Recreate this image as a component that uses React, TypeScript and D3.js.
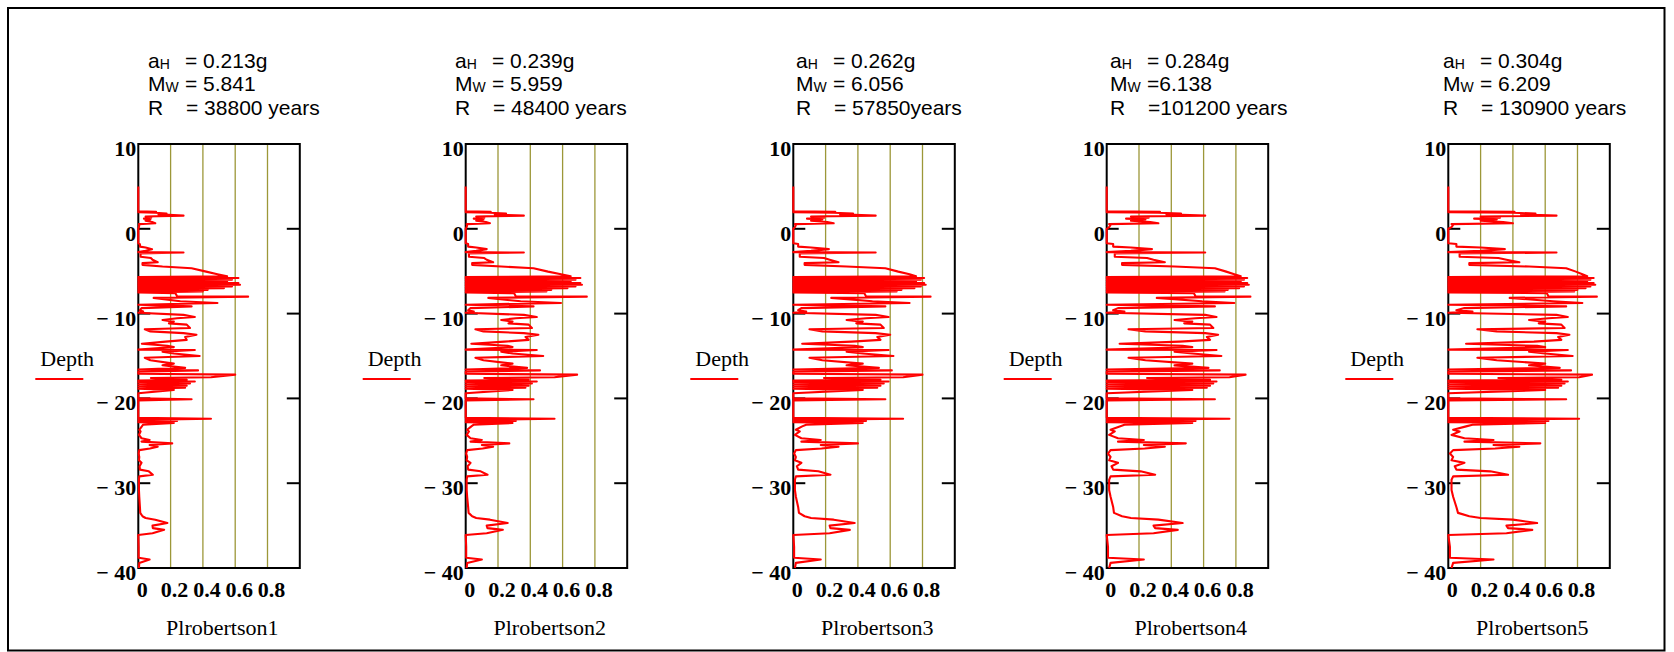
import React from "react";
import * as d3 from "d3";

if (typeof document !== "undefined") {
  document.body.style.margin = "0";
  document.body.style.overflow = "hidden";
}

// ---- data ----
const depth = [
  5.0, 2.05, 2.0, 1.95, 1.9, 1.8, 1.7, 1.55, 1.45, 1.3,
  1.2, 1.1, 0.95, 0.8, 0.65, 0.55, 0.45, 0.2, 0.0, -1.7,
  -1.8, -2.1, -2.2, -2.4, -2.6, -2.75, -2.8, -2.9, -3.3, -3.45,
  -3.65, -3.95, -4.05, -4.25, -4.45, -4.65, -5.05, -5.35, -5.6, -5.7,
  -5.8, -5.9, -6.0, -6.1, -6.2, -6.3, -6.4, -6.5, -6.6, -6.7,
  -6.8, -6.9, -7.0, -7.1, -7.2, -7.3, -7.4, -7.5, -7.6, -7.95,
  -8.0, -8.15, -8.55, -8.75, -8.95, -9.15, -9.35, -9.6, -9.75, -9.9,
  -10.15, -10.4, -10.55, -10.75, -10.95, -11.15, -11.3, -11.7, -11.85, -12.1,
  -12.3, -12.5, -12.75, -13.1, -13.3, -13.55, -13.8, -13.95, -14.25, -14.3,
  -14.5, -14.7, -15.0, -15.2, -15.5, -15.9, -16.1, -16.4, -16.6, -16.7,
  -16.85, -17.1, -17.2, -17.5, -17.6, -17.8, -17.9, -18.0, -18.1, -18.25,
  -18.35, -18.5, -18.6, -18.75, -18.85, -19.0, -19.4, -20.0, -20.1, -20.25,
  -22.3, -22.4, -22.55, -22.65, -22.8, -22.9, -23.1, -23.3, -23.7, -23.9,
  -24.3, -24.7, -24.9, -25.1, -25.3, -25.5, -25.7, -25.9, -26.1, -26.5,
  -26.9, -27.3, -27.6, -28.0, -28.4, -28.6, -29.0, -29.2, -29.6, -30.8,
  -31.6, -32.8, -33.5, -33.9, -34.1, -34.3, -34.7, -35.0, -35.3, -35.5,
  -35.9, -36.1, -37.5, -38.8, -39.0, -39.4, -40.0,
];

const pl1 = [
  0, 0, 0.11, 0, 0.105, 0.175, 0.125, 0.28, 0.045, 0.08,
  0.035, 0.075, 0.045, 0.085, 0.105, 0.004, 0.006, 0.004, 0, 0,
  0.01, 0.01, 0.045, 0.085, 0.045, 0, 0.28, 0.014, 0.014, 0.078,
  0.088, 0.12, 0.026, 0.026, 0.15, 0.33, 0.42, 0.49, 0.55, 0,
  0.62, 0, 0.58, 0, 0.55, 0, 0.62, 0, 0.63, 0,
  0.58, 0, 0.53, 0, 0.43, 0, 0.4, 0, 0.23, 0.24,
  0.68, 0.095, 0.26, 0.49, 0, 0.33, 0.02, 0.01, 0.03, 0,
  0.28, 0.35, 0.24, 0.15, 0.22, 0.19, 0.3, 0.32, 0.04, 0.075,
  0.28, 0.36, 0.29, 0.3, 0.17, 0.022, 0.18, 0.22, 0, 0.35,
  0.15, 0.22, 0.38, 0.04, 0.075, 0.22, 0.15, 0.29, 0, 0.37,
  0, 0, 0.6, 0.45, 0.078, 0.3, 0, 0.35, 0, 0.32,
  0, 0.3, 0, 0.29, 0, 0.22, 0, 0, 0.33, 0,
  0, 0.45, 0, 0.24, 0, 0.22, 0.03, 0.022, 0.006, 0.014,
  0.004, 0.02, 0.07, 0.02, 0.21, 0.07, 0.12, 0.072, 0.006, 0.002,
  0.006, 0.004, 0.02, 0.008, 0.01, 0.065, 0.09, 0.006, 0.004, 0.004,
  0.006, 0.01, 0.012, 0.026, 0.045, 0.105, 0.18, 0.088, 0.09, 0.16,
  0.088, 0, 0.002, 0.002, 0.07, 0.006, 0.004,
];

const pl2 = [
  0, 0, 0.155, 0, 0.15, 0.25, 0.18, 0.36, 0.065, 0.115,
  0.05, 0.11, 0.065, 0.125, 0.15, 0.006, 0.009, 0.006, 0, 0,
  0.015, 0.015, 0.065, 0.13, 0.065, 0, 0.36, 0.02, 0.02, 0.115,
  0.13, 0.17, 0.04, 0.04, 0.22, 0.42, 0.51, 0.59, 0.65, 0,
  0.71, 0, 0.68, 0, 0.65, 0, 0.71, 0, 0.72, 0,
  0.68, 0, 0.63, 0, 0.53, 0, 0.5, 0, 0.3, 0.31,
  0.75, 0.14, 0.34, 0.59, 0, 0.42, 0.03, 0.015, 0.05, 0,
  0.36, 0.44, 0.31, 0.22, 0.29, 0.265, 0.39, 0.41, 0.06, 0.11,
  0.36, 0.45, 0.37, 0.39, 0.24, 0.035, 0.26, 0.29, 0, 0.44,
  0.22, 0.29, 0.48, 0.06, 0.11, 0.29, 0.22, 0.38, 0, 0.46,
  0, 0, 0.69, 0.55, 0.115, 0.39, 0, 0.44, 0, 0.41,
  0, 0.39, 0, 0.37, 0, 0.29, 0, 0, 0.42, 0,
  0, 0.55, 0, 0.31, 0, 0.29, 0.05, 0.035, 0.009, 0.02,
  0.006, 0.03, 0.1, 0.03, 0.27, 0.1, 0.17, 0.105, 0.009, 0.003,
  0.009, 0.006, 0.03, 0.012, 0.015, 0.093, 0.135, 0.009, 0.006, 0.006,
  0.009, 0.015, 0.018, 0.04, 0.065, 0.15, 0.26, 0.13, 0.135, 0.23,
  0.13, 0, 0.003, 0.003, 0.1, 0.009, 0.006,
];

const pl3 = [
  0, 0, 0.26, 0, 0.25, 0.37, 0.29, 0.51, 0.11, 0.19,
  0.085, 0.18, 0.11, 0.21, 0.25, 0.01, 0.016, 0.01, 0, 0,
  0.03, 0.03, 0.11, 0.22, 0.11, 0, 0.51, 0.04, 0.04, 0.19,
  0.225, 0.28, 0.07, 0.07, 0.33, 0.57, 0.65, 0.72, 0.76, 0,
  0.81, 0, 0.79, 0, 0.76, 0, 0.81, 0, 0.82, 0,
  0.79, 0, 0.75, 0, 0.67, 0, 0.64, 0, 0.44, 0.45,
  0.85, 0.235, 0.49, 0.72, 0, 0.57, 0.05, 0.03, 0.08, 0,
  0.51, 0.59, 0.45, 0.33, 0.43, 0.39, 0.54, 0.56, 0.1, 0.18,
  0.51, 0.6, 0.52, 0.54, 0.36, 0.055, 0.38, 0.43, 0, 0.59,
  0.33, 0.43, 0.62, 0.1, 0.18, 0.43, 0.33, 0.53, 0, 0.61,
  0, 0, 0.8, 0.68, 0.19, 0.54, 0, 0.59, 0, 0.56,
  0, 0.54, 0, 0.52, 0, 0.43, 0, 0, 0.57, 0,
  0, 0.68, 0, 0.45, 0, 0.43, 0.08, 0.055, 0.016, 0.04,
  0.01, 0.05, 0.17, 0.05, 0.4, 0.17, 0.28, 0.175, 0.016, 0.005,
  0.016, 0.01, 0.05, 0.022, 0.03, 0.155, 0.23, 0.016, 0.01, 0.01,
  0.016, 0.03, 0.035, 0.07, 0.11, 0.25, 0.38, 0.225, 0.23, 0.35,
  0.225, 0, 0.005, 0.005, 0.17, 0.016, 0.01,
];

const pl4 = [
  0, 0, 0.33, 0, 0.32, 0.46, 0.37, 0.61, 0.15, 0.26,
  0.12, 0.24, 0.15, 0.27, 0.32, 0.015, 0.024, 0.015, 0, 0,
  0.04, 0.04, 0.15, 0.28, 0.15, 0, 0.61, 0.05, 0.05, 0.25,
  0.29, 0.36, 0.095, 0.095, 0.42, 0.67, 0.74, 0.79, 0.83, 0,
  0.87, 0, 0.85, 0, 0.83, 0, 0.87, 0, 0.88, 0,
  0.85, 0, 0.82, 0, 0.75, 0, 0.73, 0, 0.54, 0.55,
  0.89, 0.31, 0.59, 0.79, 0, 0.67, 0.07, 0.04, 0.11, 0,
  0.61, 0.68, 0.55, 0.42, 0.53, 0.48, 0.64, 0.66, 0.135, 0.24,
  0.61, 0.69, 0.62, 0.64, 0.45, 0.08, 0.47, 0.53, 0, 0.68,
  0.42, 0.53, 0.71, 0.135, 0.24, 0.53, 0.42, 0.63, 0, 0.7,
  0, 0, 0.86, 0.76, 0.25, 0.64, 0, 0.68, 0, 0.66,
  0, 0.64, 0, 0.62, 0, 0.53, 0, 0, 0.67, 0,
  0, 0.76, 0, 0.55, 0, 0.53, 0.11, 0.08, 0.024, 0.05,
  0.015, 0.07, 0.23, 0.07, 0.49, 0.23, 0.36, 0.235, 0.024, 0.008,
  0.024, 0.015, 0.07, 0.03, 0.04, 0.21, 0.3, 0.024, 0.015, 0.015,
  0.024, 0.04, 0.045, 0.095, 0.15, 0.32, 0.47, 0.29, 0.3, 0.44,
  0.29, 0, 0.008, 0.008, 0.23, 0.024, 0.015,
];

const pl5 = [
  0, 0, 0.41, 0, 0.4, 0.54, 0.45, 0.67, 0.2, 0.32,
  0.16, 0.3, 0.2, 0.34, 0.4, 0.02, 0.03, 0.02, 0, 0,
  0.05, 0.05, 0.2, 0.35, 0.2, 0, 0.67, 0.07, 0.07, 0.31,
  0.36, 0.44, 0.13, 0.13, 0.5, 0.73, 0.79, 0.83, 0.86, 0,
  0.9, 0, 0.88, 0, 0.86, 0, 0.9, 0, 0.91, 0,
  0.88, 0, 0.85, 0, 0.8, 0, 0.78, 0, 0.61, 0.62,
  0.92, 0.38, 0.65, 0.83, 0, 0.73, 0.1, 0.05, 0.15, 0,
  0.67, 0.74, 0.62, 0.5, 0.6, 0.56, 0.7, 0.72, 0.18, 0.3,
  0.67, 0.75, 0.68, 0.7, 0.53, 0.11, 0.55, 0.6, 0, 0.74,
  0.5, 0.6, 0.77, 0.18, 0.3, 0.6, 0.5, 0.69, 0, 0.76,
  0, 0, 0.89, 0.81, 0.31, 0.7, 0, 0.74, 0, 0.72,
  0, 0.7, 0, 0.68, 0, 0.6, 0, 0, 0.73, 0,
  0, 0.81, 0, 0.62, 0, 0.6, 0.15, 0.11, 0.03, 0.07,
  0.02, 0.1, 0.28, 0.1, 0.57, 0.28, 0.44, 0.29, 0.03, 0.01,
  0.03, 0.02, 0.1, 0.04, 0.05, 0.26, 0.37, 0.03, 0.02, 0.02,
  0.03, 0.05, 0.06, 0.13, 0.2, 0.4, 0.55, 0.36, 0.37, 0.52,
  0.36, 0, 0.01, 0.01, 0.28, 0.03, 0.02,
];

const series = [pl1, pl2, pl3, pl4, pl5];
const seriesNames = ["Plrobertson1", "Plrobertson2", "Plrobertson3", "Plrobertson4", "Plrobertson5"];
const aHText = ["= 0.213g", "= 0.239g", "= 0.262g", "= 0.284g", "= 0.304g"];
const mwText = ["= 5.841", "= 5.959", "= 6.056", "=6.138", "= 6.209"];
const rText = ["= 38800 years", "= 48400 years", "= 57850years", "=101200 years", "= 130900 years"];
const yTicks = [10, 0, -10, -20, -30, -40];
const yTickLabels = ["10", "0", "\u2212 10", "\u2212 20", "\u2212 30", "\u2212 40"];
const xTicks = [0, 0.2, 0.4, 0.6, 0.8];
const xTickLabels = ["0", "0.2", "0.4", "0.6", "0.8"];
const gridValues = [0.2, 0.4, 0.6, 0.8];

// ---- layout ----
const panelLeft = [138.3, 465.7, 793.3, 1106.7, 1448.3];
const headerLeft = [148, 455, 796, 1110, 1443];
const plotW = 161.5;
const plotTop = 144;
const plotBottom = 568;

const serif = "'Liberation Serif', 'Times New Roman', serif";
const sans = "'Liberation Sans', Arial, sans-serif";

function Panel({ i }: { i: number }) {
  const x0 = panelLeft[i];
  const x = d3.scaleLinear().domain([0, 1]).range([x0, x0 + plotW]);
  const y = d3.scaleLinear().domain([10, -40]).range([plotTop, plotBottom]);
  const vals = series[i];
  const line = d3
    .line<number>()
    .x((_, k) => x(vals[k]))
    .y((d) => y(d));
  const hx = headerLeft[i];
  const right = x(1);
  return (
    <g>
      {/* header */}
      <g fontFamily={sans} fontSize={21} fill="#000">
        <text x={hx} y={68}>
          a<tspan fontSize={14} dy={1}>H</tspan>
        </text>
        <text x={hx + 37} y={68}>{aHText[i]}</text>
        <text x={hx} y={91}>
          M<tspan fontSize={14} dy={1}>W</tspan>
        </text>
        <text x={hx + 37} y={91}>{mwText[i]}</text>
        <text x={hx} y={115}>R</text>
        <text x={hx + 38} y={115}>{rText[i]}</text>
      </g>
      {/* grid */}
      {gridValues.map((g) => (
        <line key={g} x1={x(g)} x2={x(g)} y1={plotTop} y2={plotBottom} stroke="#9c9738" strokeWidth={1.3} />
      ))}
      {/* frame */}
      <rect x={x0} y={plotTop} width={right - x0} height={plotBottom - plotTop} fill="none" stroke="#000" strokeWidth={2} />
      {/* y ticks */}
      {yTicks.map((t) => (
        <g key={t}>
          <line x1={x0} x2={x0 + 12} y1={y(t)} y2={y(t)} stroke="#000" strokeWidth={2} />
          <line x1={right - 13} x2={right} y1={y(t)} y2={y(t)} stroke="#000" strokeWidth={2} />
        </g>
      ))}
      {/* trace */}
      <path d={line(depth) || ""} fill="none" stroke="#ff0000" strokeWidth={2.1} strokeLinejoin="round" />
      {/* y tick labels */}
      <g fontFamily={serif} fontWeight="bold" fontSize={22} textAnchor="end">
        {yTicks.map((t, k) => (
          <text key={t} x={x0 - 2} y={y(t) + 12}>
            {yTickLabels[k]}
          </text>
        ))}
      </g>
      {/* x tick labels */}
      <g fontFamily={serif} fontWeight="bold" fontSize={22} textAnchor="middle">
        {xTicks.map((t, k) => (
          <text key={t} x={x(t) + 4} y={597}>
            {xTickLabels[k]}
          </text>
        ))}
      </g>
      {/* x title */}
      <text x={x0 + 84} y={635} fontFamily={serif} fontSize={22} textAnchor="middle">
        {seriesNames[i]}
      </text>
      {/* legend */}
      <text x={x0 - 98} y={365.5} fontFamily={serif} fontSize={22}>
        Depth
      </text>
      <line x1={x0 - 103} x2={x0 - 55} y1={379} y2={379} stroke="#ff0000" strokeWidth={2} />
    </g>
  );
}

export default function App() {
  return (
    <svg width={1674} height={652} style={{ display: "block", background: "#fff" }}>
      <rect x={0} y={0} width={1674} height={652} fill="#fff" />
      <rect x={8} y={8} width={1656.5} height={642.5} fill="none" stroke="#000" strokeWidth={2} />
      {series.map((_, i) => (
        <Panel key={i} i={i} />
      ))}
    </svg>
  );
}
